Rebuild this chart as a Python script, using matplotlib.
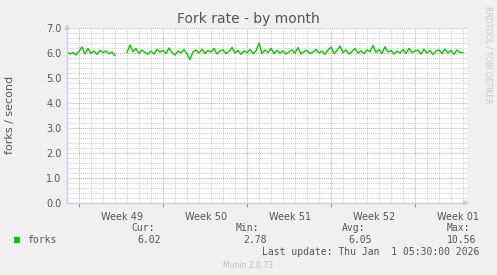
import numpy as np
import matplotlib
matplotlib.use("Agg")
import matplotlib.pyplot as plt
from matplotlib.patches import Rectangle
from matplotlib.transforms import blended_transform_factory

# forks per second, one value every 6 hours (day 0 = Sunday Nov 30)
step = 0.25
forks = [6.05, 5.96, 6.02, 5.92, 6.06, 6.24, 5.96, 6.18, 5.98, 6.08, 5.95, 6.10,
         6.02, 6.08, 5.97, 6.04, 5.90,
         None, None, None,
         6.02, 6.32, 6.05, 6.18,  5.98, 6.12, 6.02, 5.95,  6.08, 5.96, 6.15, 6.04,
         6.10, 5.98, 6.20, 6.02,  5.92, 6.08, 6.00, 6.14,  5.96, 5.74, 6.05, 6.12,
         6.00, 6.15, 5.98, 6.10,  6.04, 6.18, 5.96, 6.08,  6.12, 5.98, 6.06, 6.22,
         6.00, 6.10, 5.95, 6.08,  6.02, 6.14, 5.98, 6.08,  6.40, 5.98, 6.12, 6.02,
         6.18, 5.98, 6.10, 6.00,  6.08, 5.96, 6.04, 6.12,  6.00, 6.22, 5.96, 6.06,
         6.10, 5.98, 6.04, 6.14,  6.00, 6.08, 5.95, 6.12,  6.24, 5.98, 6.10, 6.28,
         6.02, 6.12, 5.96, 6.06,  6.18, 6.00, 6.08, 5.97,  6.12, 6.05, 6.30, 6.02,
         6.14, 5.98, 6.25, 6.04,  6.10, 5.96, 6.08, 6.00,  6.14, 5.98, 6.18, 6.02,
         6.08, 6.12, 5.96, 6.15,  6.00, 6.10, 5.94, 6.08,  6.12, 5.98, 6.16, 6.00,
         6.10, 5.95, 6.12, 6.02,  6.02]
week_starts = [1, 8, 15, 22, 29]
week_labels = ["Week 49", "Week 50", "Week 51", "Week 52", "Week 01"]
stats_names = ["Cur:", "Min:", "Avg:", "Max:"]
stats_values = ["6.02", "2.78", "6.05", "10.56"]

y = np.array([np.nan if v is None else v for v in forks])
x = np.arange(len(y)) * step

W, H = 497, 275
fig = plt.figure(figsize=(W / 100, H / 100), dpi=100, facecolor="#f0f0f0")
ax = fig.add_axes([67 / W, 1 - 203 / H, 400 / W, 175 / H])
ax.set_facecolor("white")

ax.plot(x, y, color="#00cc00", linewidth=1.0)

ax.set_xlim(0, 400 / 12)
ax.set_ylim(0, 7)
ax.set_yticks(np.arange(0, 7.01, 1))
ax.set_yticks(np.arange(0, 7.01, 0.2), minor=True)
ax.set_xticks(week_starts)
ax.set_xticks(np.arange(0, 34, 1), minor=True)
ax.set_xticklabels([])
ax.set_yticklabels(["%.1f" % v for v in np.arange(0, 7.01, 1)])

ax.grid(which="minor", color="#cccccc", linestyle=(0, (1, 1)), linewidth=0.7)
ax.grid(which="major", color="#e6a0a0", linestyle=(0, (1, 1)), linewidth=0.7)
ax.set_axisbelow(True)

ax.tick_params(axis="y", which="both", length=0, labelsize=7, labelcolor="#555555", pad=4)
ax.tick_params(axis="x", which="major", length=3, color="#e08080", direction="out")
ax.tick_params(axis="x", which="minor", length=0)

for s in ["top", "right"]:
    ax.spines[s].set_visible(False)
for s in ["left", "bottom"]:
    ax.spines[s].set_color("#c8ccf0")
    ax.spines[s].set_linewidth(1.0)

# axis arrows
ax.annotate("", xy=(0, 1.04), xytext=(0, 0.98), xycoords="axes fraction",
            arrowprops=dict(arrowstyle="-|>", color="#c8ccf0", lw=1, mutation_scale=7),
            annotation_clip=False)
ax.annotate("", xy=(1.012, 0), xytext=(0.99, 0), xycoords="axes fraction",
            arrowprops=dict(arrowstyle="-|>", color="#c8ccf0", lw=1, mutation_scale=7),
            annotation_clip=False)

tr = blended_transform_factory(ax.transData, ax.transAxes)
for d, lab in zip(week_starts, week_labels):
    ax.text(d + 3.6, -0.05, lab, transform=tr, ha="center", va="top",
            fontsize=7, color="#555555")

def px(xp, yp):
    return xp / W, 1 - yp / H

fig.text(*px(248, 19), "Fork rate - by month", ha="center", va="center",
         fontsize=10, color="#555555")
fig.text(*px(10, 115), "forks / second", ha="center", va="center",
         rotation=90, fontsize=8, color="#555555")
fig.text(*px(488, 6), "RRDTOOL / TOBI OETIKER", ha="center", va="top",
         rotation=270, fontsize=5.5, color="#c8c8c8")

mono = dict(family="DejaVu Sans Mono", fontsize=7, color="#555555", va="center")
fig.patches.append(Rectangle(px(14, 243), 6 / W, 6 / H, transform=fig.transFigure,
                             facecolor="#00cc00", edgecolor="none"))
fig.text(*px(27, 240), "forks", **mono)
for xn, n in zip([131, 236, 342, 447], stats_names):
    fig.text(*px(xn, 228), n, **mono)
for xv, v in zip([137, 243, 348, 447], stats_values):
    fig.text(*px(xv, 240), v, **mono)
fig.text(*px(262, 252), "Last update: Thu Jan  1 05:30:00 2026", **mono)
fig.text(*px(248, 265), "Munin 2.0.73", ha="center", va="center",
         fontsize=5.5, color="#c0c0c0")

fig.savefig("out.png", dpi=100, facecolor=fig.get_facecolor())
